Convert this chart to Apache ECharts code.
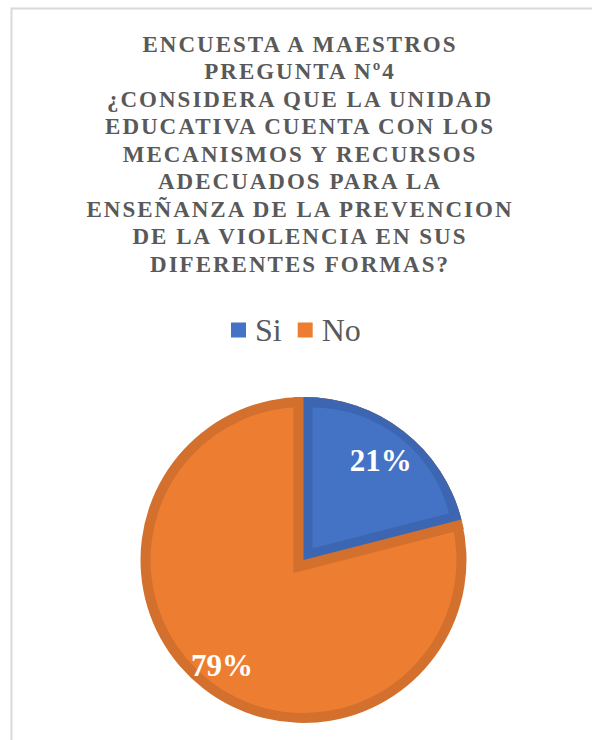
<!DOCTYPE html>
<html>
<head>
<meta charset="utf-8">
<script src="https://cdn.jsdelivr.net/npm/echarts@6/dist/echarts.min.js"></script>
<style>
  html, body { margin: 0; padding: 0; background: #ffffff; }
  #chart { width: 592px; height: 740px; }
  #chart text[style*="23px"] { letter-spacing: 2px; }
</style>
</head>
<body>
<div id="chart"></div>
<script>
const categories = ['Si', 'No'];
const values = [21, 79];
const titleLines = [
  'ENCUESTA A MAESTROS',
  'PREGUNTA Nº4',
  '¿CONSIDERA QUE LA UNIDAD',
  'EDUCATIVA CUENTA CON LOS',
  'MECANISMOS Y RECURSOS',
  'ADECUADOS PARA LA',
  'ENSEÑANZA DE LA PREVENCION',
  'DE LA VIOLENCIA EN SUS',
  'DIFERENTES FORMAS?'
];
const fillColors = ['#4472C4', '#ED7D31'];
const edgeColors = ['#3C66B2', '#D3702D'];

const CLEAR = 'rgba(0,0,0,0)';
const CENTER = [303.5, 560];
const R = 163;

function items(styleFor, extra) {
  return categories.map((name, i) => Object.assign({
    name: name,
    value: values[i],
    itemStyle: styleFor(i)
  }, extra ? extra(i) : {}));
}

function pieLayer(radius, data, more) {
  return Object.assign({
    type: 'pie',
    center: CENTER,
    radius: radius,
    startAngle: 90,
    clockwise: true,
    silent: true,
    animation: false,
    label: { show: false },
    labelLine: { show: false },
    emphasis: { disabled: true },
    data: data
  }, more || {});
}

const series = [
  // dark base (outer bands)
  pieLayer(R, items(i => ({ color: edgeColors[i], borderWidth: 0 }))),
  // orange interior
  pieLayer(R - 10, items(i => ({ color: i === 1 ? fillColors[1] : CLEAR, borderWidth: 0 }))),
  // orange inner band along the shared edges
  pieLayer(R - 10, items(i => i === 0
    ? { color: CLEAR, borderColor: edgeColors[1], borderWidth: 20, borderJoin: 'miter', borderMiterLimit: 20 }
    : { color: CLEAR, borderWidth: 0 })),
  // blue dark slice
  pieLayer(R, items(i => ({ color: i === 0 ? edgeColors[0] : CLEAR, borderWidth: 0 }))),
  // blue interior (inset)
  pieLayer(141, items(i => ({ color: i === 0 ? fillColors[0] : CLEAR, borderWidth: 0 }),
    i => ({ selected: i === 0 })), { selectedMode: 'single', selectedOffset: 14.7, select: { disabled: false, itemStyle: {} } }),
  // labels
  pieLayer([83, R], items(() => ({ color: CLEAR, borderWidth: 0 }), i => ({ label: { show: i === 0 } })), {
    label: { show: true, position: 'inside', formatter: '{d}%', color: '#ffffff', fontSize: 31, fontWeight: 'bold', fontFamily: 'Liberation Serif' }
  }),
  pieLayer([97, R], items(() => ({ color: CLEAR, borderWidth: 0 }), i => ({ label: { show: i === 1 } })), {
    label: { show: true, position: 'inside', formatter: '{d}%', color: '#ffffff', fontSize: 31, fontWeight: 'bold', fontFamily: 'Liberation Serif' }
  })
];

const chart = echarts.init(document.getElementById('chart'), null, { renderer: 'svg' });
chart.setOption({
  backgroundColor: '#ffffff',
  animation: false,
  title: {
    text: titleLines.join('\n'),
    left: 300,
    top: 30.5,
    textAlign: 'center',
    padding: 0,
    textStyle: {
      fontFamily: 'Liberation Serif',
      fontWeight: 'bold',
      fontSize: 23,
      lineHeight: 27.5,
      color: '#595959'
    }
  },
  legend: {
    data: categories.map((name, i) => ({ name: name, itemStyle: { color: fillColors[i] } })),
    left: 231,
    top: 314,
    padding: 0,
    icon: 'rect',
    itemWidth: 15,
    itemHeight: 15,
    itemGap: 16,
    selectedMode: false,
    textStyle: {
      fontFamily: 'Liberation Serif',
      fontSize: 32,
      color: '#595959',
      padding: [0, 0, 0, 4]
    }
  },
  graphic: [{
    type: 'rect',
    silent: true,
    shape: { x: 11.5, y: 8.5, width: 700, height: 800 },
    style: { fill: 'none', stroke: '#D9D9D9', lineWidth: 2 }
  }],
  series: series
});
</script>
</body>
</html>
